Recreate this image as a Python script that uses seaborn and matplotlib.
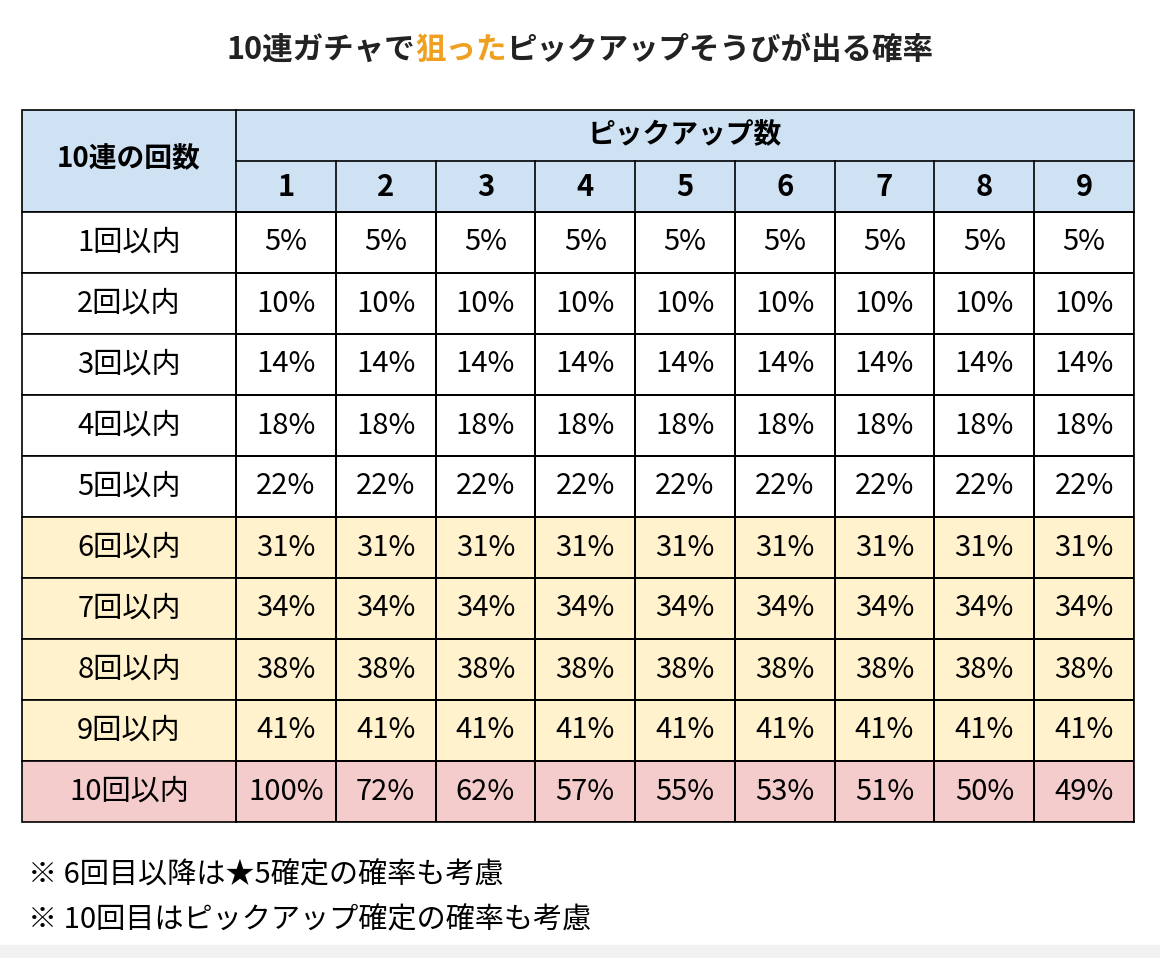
import numpy as np
import matplotlib.pyplot as plt
import seaborn as sns
from matplotlib.colors import ListedColormap
from matplotlib.patches import Rectangle

plt.rcParams['font.family'] = 'Noto Sans CJK JP'

title_parts = ['10連ガチャで', '狙った', 'ピックアップそうびが出る確率']
pickups = ['1', '2', '3', '4', '5', '6', '7', '8', '9']
rows = ['1回以内', '2回以内', '3回以内', '4回以内', '5回以内',
        '6回以内', '7回以内', '8回以内', '9回以内', '10回以内']
pct_first9 = [5, 10, 14, 18, 22, 31, 34, 38, 41]
pct_last = [100, 72, 62, 57, 55, 53, 51, 50, 49]
row_group = [0, 0, 0, 0, 0, 1, 1, 1, 1, 2]
notes = ['※ 6回目以降は★5確定の確率も考慮', '※ 10回目はピックアップ確定の確率も考慮']

vals = np.array([[p] * 9 for p in pct_first9] + [pct_last])
groups = np.array([[g] * 9 for g in row_group])
annot = np.array([[f'{v}%' for v in r] for r in vals])

colors = ['#ffffff', '#fff2cc', '#f4cccc']
head_col = '#cfe2f3'
W, H = 1160, 958
fig = plt.figure(figsize=(11.6, 9.58), dpi=100)

# full-figure pixel axes for header / labels
bg = fig.add_axes([0, 0, 1, 1])
bg.set_xlim(0, W)
bg.set_ylim(H, 0)
bg.axis('off')
bg.add_patch(Rectangle((0, 945), W, 13, color='#f2f2f2'))

x0, x1, colx = 22, 1134, 236
y_top, y_mid, y_data, y_bot = 110, 161, 212, 822
cw = (x1 - colx) / 9
rh = (y_bot - y_data) / 10
fs = 21

bg.add_patch(Rectangle((x0, y_top), x1 - x0, y_data - y_top, facecolor=head_col, edgecolor='black', lw=1.2))
for g, c in zip(row_group, range(10)):
    bg.add_patch(Rectangle((x0, y_data + c * rh), colx - x0, rh, facecolor=colors[g], edgecolor='black', lw=1.2))
    bg.text((x0 + colx) / 2, y_data + (c + 0.5) * rh, rows[c], ha='center', va='center', fontsize=fs)
bg.plot([colx, colx], [y_top, y_data], color='black', lw=1.2)
bg.plot([colx, x1], [y_mid, y_mid], color='black', lw=1.2)
for i, p in enumerate(pickups):
    if i:
        bg.plot([colx + i * cw] * 2, [y_mid, y_data], color='black', lw=1.2)
    bg.text(colx + (i + 0.5) * cw, (y_mid + y_data) / 2, p, ha='center', va='center', fontsize=21, fontweight='bold')
bg.text((colx + x1) / 2, (y_top + y_mid) / 2, 'ピックアップ数', ha='center', va='center', fontsize=20, fontweight='bold')
bg.text((x0 + colx) / 2, (y_top + y_data) / 2 - 2, '10連の回数', ha='center', va='center', fontsize=20, fontweight='bold')

# title in three colored parts
fig.canvas.draw()
r = fig.canvas.get_renderer()
pieces = []
for t, c in zip(title_parts, ['#222222', '#f0a01e', '#222222']):
    pieces.append(bg.text(0, 50, t, ha='left', va='center', fontsize=22, fontweight='bold', color=c))
widths = [p.get_window_extent(r).width for p in pieces]
x = (W - sum(widths)) / 2
for p, w in zip(pieces, widths):
    p.set_x(x)
    x += w

for i, n in enumerate(notes):
    bg.text(28, 875 + i * 45, n, ha='left', va='center', fontsize=21)

# data cells via seaborn heatmap
ax = fig.add_axes([colx / W, 1 - y_bot / H, (x1 - colx) / W, (y_bot - y_data) / H])
sns.heatmap(groups, ax=ax, cmap=ListedColormap(colors), vmin=-0.5, vmax=2.5, cbar=False,
            annot=annot, fmt='', linewidths=1.2, linecolor='black',
            annot_kws={'fontsize': fs, 'color': 'black'})
ax.set_xticks([])
ax.set_yticks([])
for s in ax.spines.values():
    s.set_visible(True)
    s.set_linewidth(1.2)

fig.savefig('out.png', dpi=100)
